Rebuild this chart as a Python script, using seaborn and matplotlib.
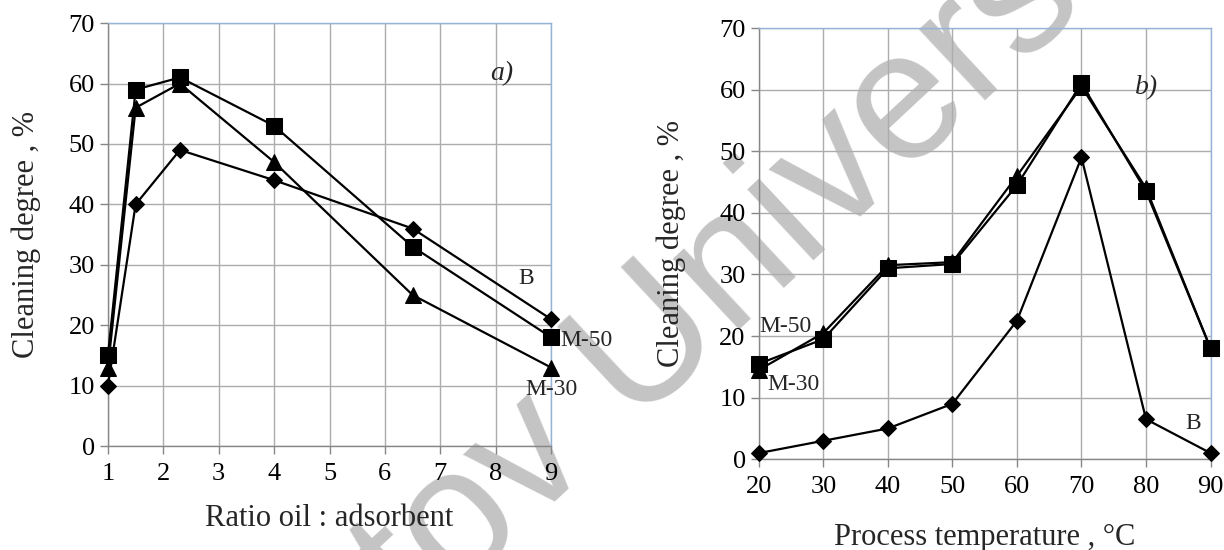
import numpy as np
import pandas as pd
import matplotlib
matplotlib.use("Agg")
import matplotlib.pyplot as plt
import seaborn as sns

# panel a) - ratio oil : adsorbent
ratio = [1, 1.5, 2.3, 4, 6.5, 9]
a_B = [10, 40, 49, 44, 36, 21]
a_M50 = [15, 59, 61, 53, 33, 18]
a_M30 = [13, 56, 60, 47, 25, 13]

# panel b) - process temperature
temp = [20, 30, 40, 50, 60, 70, 80, 90]
b_B = [1, 3, 5, 9, 22.5, 49, 6.5, 1]
b_M50 = [15.5, 19.5, 31, 31.7, 44.5, 61, 43.5, 18]
b_M30 = [14.5, 20.5, 31.5, 32, 46, 60.5, 44, 18]

markers = {"B": "D", "M-50": "s", "M-30": "^"}
msize = {"B": 8, "M-50": 11, "M-30": 11}

sns.set_style("white")
plt.rcParams["font.family"] = ["Liberation Serif", "DejaVu Serif"]

fig = plt.figure(figsize=(12.24, 5.5), dpi=100)
ax1 = fig.add_axes([0.0882, 0.189, 0.362, 0.769])
ax2 = fig.add_axes([0.620, 0.165, 0.369, 0.784])

# watermark behind the charts
fig.text(0.528, 0.36, "Saratov University", fontsize=132, color="#c4c4c4",
         family="Liberation Sans", rotation=43, rotation_mode="anchor",
         ha="center", va="center", zorder=-5)


def draw(ax, x, series):
    for name, y in series.items():
        df = pd.DataFrame({"x": x, "y": y})
        sns.lineplot(data=df, x="x", y="y", ax=ax, color="black", lw=1.6,
                     marker=markers[name], markersize=msize[name],
                     markeredgecolor="black", markerfacecolor="black",
                     clip_on=False, zorder=5)


def style(ax):
    ax.set_facecolor("none")
    ax.set_ylim(0, 70)
    ax.set_yticks(range(0, 71, 10))
    ax.grid(True, color="#acacac", lw=1.0)
    for s in ["top", "right"]:
        ax.spines[s].set_color("#95b3d7")
        ax.spines[s].set_linewidth(1.0)
    for s in ["left", "bottom"]:
        ax.spines[s].set_color("#868686")
        ax.spines[s].set_linewidth(1.0)
    ax.tick_params(axis="both", labelsize=19, colors="#868686",
                   labelcolor="black", length=6, width=1, direction="out",
                   left=True, bottom=True)
    ax.tick_params(axis="x", pad=6)


draw(ax1, ratio, {"B": a_B, "M-50": a_M50, "M-30": a_M30})
style(ax1)
ax1.set_xlim(1, 9)
ax1.set_xticks(range(1, 10))
ax1.set_ylabel("Cleaning degree , %", fontsize=22, labelpad=20)
ax1.set_xlabel("Ratio oil : adsorbent", fontsize=22, labelpad=14)
ax1.text(7.9, 60.5, "a)", fontsize=20, style="italic")
ax1.text(8.55, 27.8, "B", fontsize=17, ha="center", va="center")
ax1.text(9.17, 17.5, "M-50", fontsize=17, ha="left", va="center")
ax1.text(9.0, 9.4, "M-30", fontsize=17, ha="center", va="center")

draw(ax2, temp, {"B": b_B, "M-50": b_M50, "M-30": b_M30})
style(ax2)
ax2.set_xlim(20, 90)
ax2.set_xticks(range(20, 91, 10))
ax2.set_ylabel("Cleaning degree , %", fontsize=22, labelpad=24)
ax2.set_xlabel("Process temperature , °C", fontsize=22, labelpad=18)
ax2.text(78.3, 60.3, "b)", fontsize=20, style="italic", va="center")
ax2.text(20, 21.6, "M-50", fontsize=17, ha="left", va="center")
ax2.text(21.3, 12.2, "M-30", fontsize=17, ha="left", va="center")
ax2.text(87.3, 5.8, "B", fontsize=17, ha="center", va="center")

fig.savefig("out.png", dpi=100)
